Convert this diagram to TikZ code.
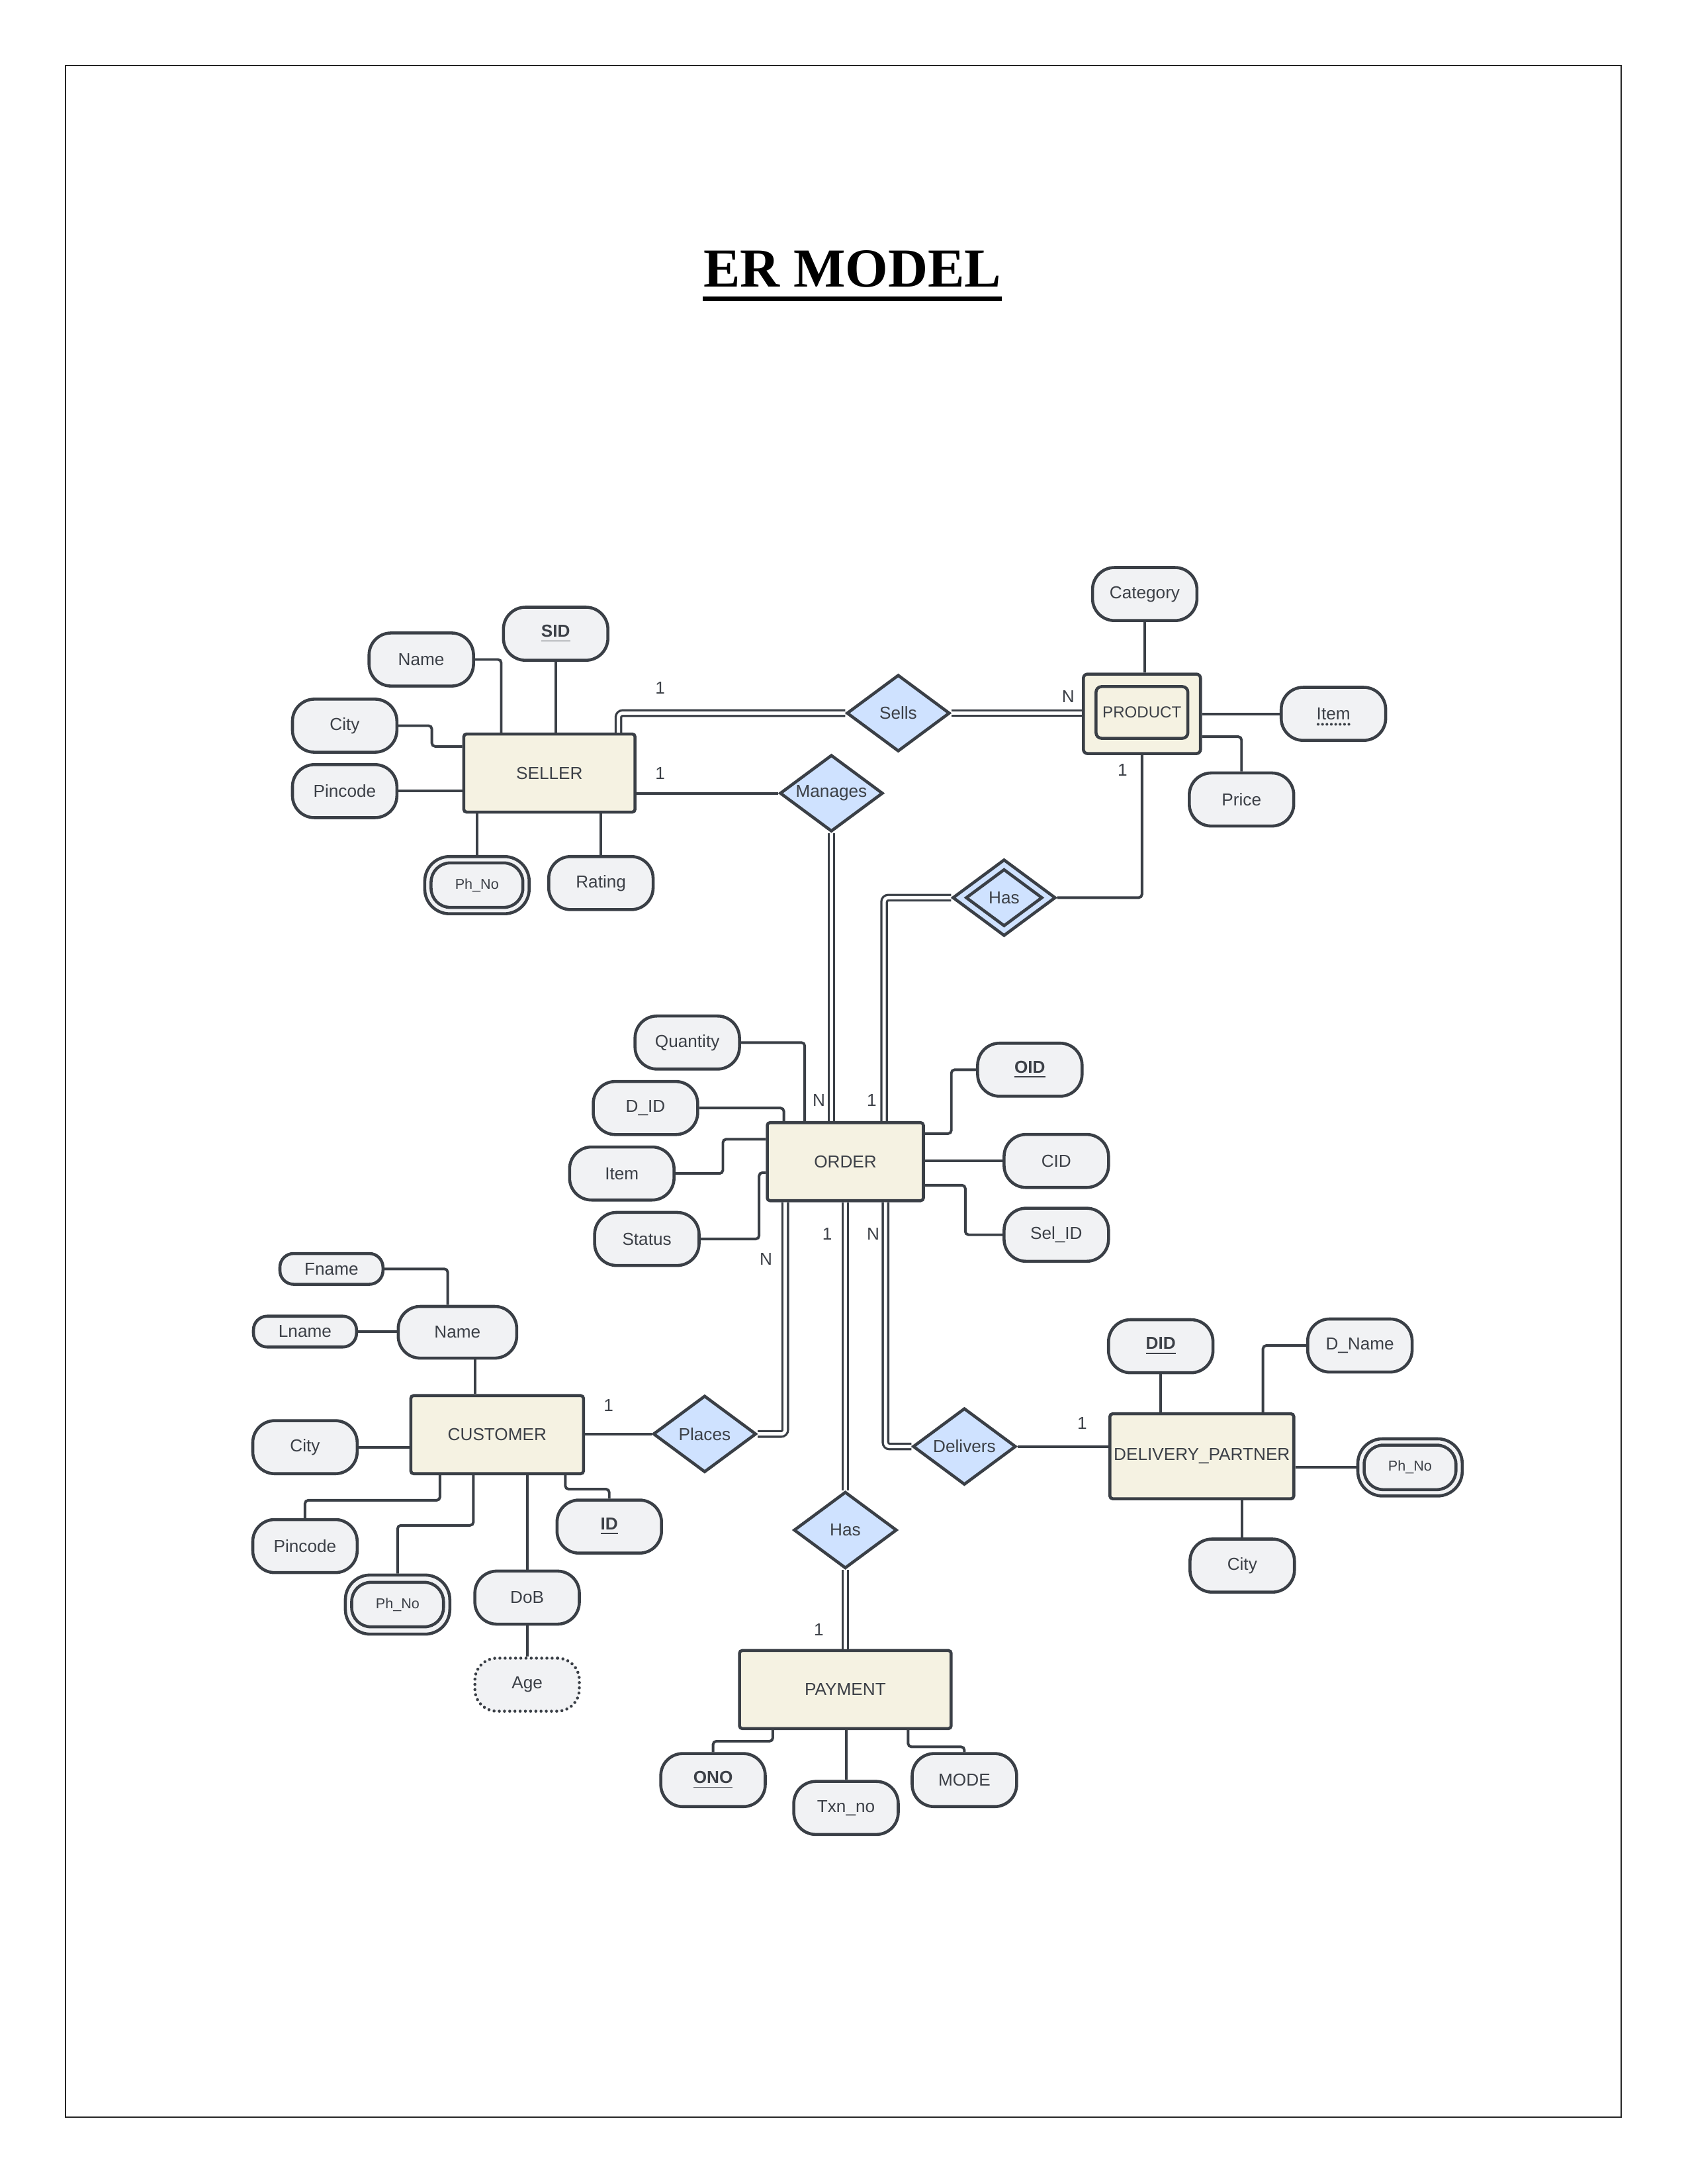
\documentclass[tikz,border=0pt]{standalone}
\usepackage{fontspec}
\setmainfont{Liberation Sans}
\newfontfamily\titlefont{Liberation Serif}
\usetikzlibrary{shapes.geometric,calc}
\definecolor{strk}{HTML}{3A3F46}
\definecolor{entfill}{HTML}{F5F2E2}
\definecolor{attrfill}{HTML}{F1F2F4}
\definecolor{relfill}{HTML}{CFE2FF}
\definecolor{txt}{HTML}{3C4047}
\begin{document}
\begin{tikzpicture}[x=0.017813cm,y=-0.017813cm,
  every node/.style={font=\fontsize{6.3}{7.5}\selectfont, text=txt, inner sep=0pt},
  entity/.style={rectangle, draw=strk, fill=entfill, line width=1.1pt, rounded corners=1pt, minimum height=28.4pt},
  attr/.style={rectangle, draw=strk, fill=attrfill, line width=1.1pt, rounded corners=8pt, minimum width=38pt, minimum height=19.3pt},
  smallattr/.style={attr, rounded corners=5pt, minimum width=37.5pt, minimum height=11.2pt},
  rel/.style={diamond, aspect=1.35, draw=strk, fill=relfill, line width=1.1pt, minimum width=37.5pt, minimum height=27.9pt},
  conn/.style={draw=strk, line width=0.95pt, rounded corners=1.2pt},
  dbl/.style={draw=strk, line width=0.8pt, double=white, double distance=1.2pt, rounded corners=1.5pt},
  card/.style={text=txt},
  keyf/.style={font=\fontsize{6.3}{7.5}\selectfont\bfseries},
  phf/.style={font=\fontsize{5.2}{6}\selectfont}
]
\useasboundingbox (0,0) rectangle (1212,1568);
\draw[line width=0.6pt, black!85] (47,47) rectangle (1164,1520);

% title
\node[font=\titlefont\fontsize{20}{24}\selectfont\bfseries, text=black, anchor=base] (title) at (612,206) {ER MODEL};
\draw[line width=1.7pt, black] ($(title.base west)+(0,8.5)$) -- ($(title.base east)+(0,8.5)$);

% entities
\node[entity, minimum width=62.3pt] (seller) at (394.5,555) {SELLER};
\node[entity, minimum width=42.6pt, minimum height=28.9pt, rounded corners=1.5pt] (product) at (820,512.5) {};
\node[entity, minimum width=33.4pt, minimum height=18.8pt, rounded corners=2pt, font=\fontsize{5.8}{7}\selectfont] (productin) at (820,511.5) {PRODUCT};
\node[entity, minimum width=56.8pt] (order) at (607,834) {ORDER};
\node[entity, minimum width=62.8pt] (customer) at (357,1030) {CUSTOMER};
\node[entity, minimum width=66.9pt, minimum height=30.9pt] (dp) at (863,1045.5) {DELIVERY\_PARTNER};
\node[entity, minimum width=77pt] (payment) at (607,1213) {PAYMENT};

% relationships
\node[rel] (sells) at (645,512) {Sells};
\node[rel] (manages) at (597,569.5) {Manages};
\node[rel] (hasp) at (721,644.5) {};
\node[rel, minimum width=27.9pt, minimum height=20.8pt] (haspin) at (721,644.5) {Has};
\node[rel] (places) at (506,1029.5) {Places};
\node[rel] (deliv) at (692.5,1038.5) {Delivers};
\node[rel] (haspay) at (607,1098.5) {Has};

% seller attributes
\node[attr, keyf] (sid) at (399,455) {\underline{SID}};
\node[attr] (sname) at (302.5,473.5) {Name};
\node[attr] (scity) at (247.5,521) {City};
\node[attr] (spin) at (247.5,568) {Pincode};
\node[attr, minimum height=20.8pt, rounded corners=9pt] (sph) at (342.5,635.5) {};
\node[attr, phf, minimum width=33.4pt, minimum height=16.2pt, rounded corners=7pt] (sphin) at (342.5,635.5) {Ph\_No};
\node[attr] (srat) at (431.5,634) {Rating};

% product attributes
\node[attr] (cat) at (822,426.5) {Category};
\node[attr] (pitem) at (957.5,512.5) {Item};
\node[attr] (price) at (891.5,574) {Price};

% order attributes
\node[attr] (qty) at (493.5,748.5) {Quantity};
\node[attr] (did) at (463.5,795.5) {D\_ID};
\node[attr] (oitem) at (446.5,842.5) {Item};
\node[attr] (status) at (464.5,889.5) {Status};
\node[attr, keyf] (oid) at (739.5,768) {\underline{OID}};
\node[attr] (ocid) at (758.5,833.5) {CID};
\node[attr] (selid) at (758.5,886.5) {Sel\_ID};

% customer attributes
\node[attr, minimum width=43.1pt, minimum height=18.8pt] (cname) at (328.5,956.5) {Name};
\node[smallattr] (fname) at (238,911) {Fname};
\node[smallattr] (lname) at (219,956) {Lname};
\node[attr] (ccity) at (219,1039) {City};
\node[attr] (cpin) at (219,1110) {Pincode};
\node[attr, minimum height=21.5pt, rounded corners=9pt] (cph) at (285.5,1152) {};
\node[attr, phf, minimum width=33.4pt, minimum height=16.2pt, rounded corners=7pt] (cphin) at (285.5,1152) {Ph\_No};
\node[attr] (dob) at (378.5,1147) {DoB};
\node[attr, dash pattern=on 0pt off 1.9pt, line cap=round, line width=1.1pt] (age) at (378.5,1209.5) {Age};
\node[attr, keyf] (ckey) at (437.5,1096) {\underline{ID}};

% delivery partner attributes
\node[attr, keyf] (ddid) at (833.5,966.5) {\underline{DID}};
\node[attr] (dname) at (976.5,966) {D\_Name};
\node[attr, minimum height=20.8pt, rounded corners=9pt] (dph) at (1012.5,1053.5) {};
\node[attr, phf, minimum width=33.4pt, minimum height=16.2pt, rounded corners=7pt] (dphin) at (1012.5,1053.5) {Ph\_No};
\node[attr] (dcity) at (892,1124) {City};

% payment attributes
\node[attr, keyf] (ono) at (512,1278) {\underline{ONO}};
\node[attr] (txn) at (607.5,1298) {Txn\_no};
\node[attr] (mode) at (692.5,1278) {MODE};

% dotted partial-key underline for Item
\draw[strk, line width=1pt, dash pattern=on 0pt off 1.6pt, line cap=round] ($(pitem.center)+(-11,7.5)$) -- ($(pitem.center)+(12,7.5)$);

% ---- connectors: seller
\draw[conn] (sid.south) -- (sid.south |- seller.north);
\draw[conn] (sname.east) -| ($(seller.north west)+(28,0)$);
\draw[conn] (scity.east) -- ++(24,0) |- ($(seller.north west)+(0,10)$);
\draw[conn] (spin.east) -- (spin.east -| seller.west);
\draw[conn] (sph.north) -- (sph.north |- seller.south);
\draw[conn] (srat.north) -- (srat.north |- seller.south);
\draw[dbl] ($(seller.north east)+(-13,0)$) |- (sells.west);
\draw[dbl] (sells.east) -- (sells.east -| product.west);
\draw[conn] (seller.east |- manages.west) -- (manages.west);
\draw[dbl] (manages.south) -- (manages.south |- order.north);

% product
\draw[conn] (product.south) |- (hasp.east);
\draw[dbl] (hasp.west) -| ($(order.north west)+(85,0)$);
\draw[conn] (cat.south) -- (cat.south |- product.north);
\draw[conn] (pitem.west) -- (pitem.west -| product.east);
\draw[conn] ($(product.north east)+(0,46)$) -| (price.north);

% order
\draw[conn] (qty.east) -| ($(order.north west)+(28,0)$);
\draw[conn] (did.east) -| ($(order.north west)+(13,0)$);
\draw[conn] (oitem.east) -- ++(34,0) |- ($(order.north west)+(0,13)$);
\draw[conn] (status.east) -- ++(42,0) |- ($(order.north west)+(0,37)$);
\draw[conn] ($(order.north east)+(0,9)$) -- ++(19,0) |- (oid.west);
\draw[conn] (ocid.west) -- (ocid.west -| order.east);
\draw[conn] ($(order.north east)+(0,46)$) -- ++(29,0) |- (selid.west);
\draw[dbl] ($(order.south west)+(14,0)$) |- (places.east);
\draw[dbl] (haspay.north) -- (haspay.north |- order.south);
\draw[dbl] ($(order.south west)+(86,0)$) |- (deliv.west);

% customer
\draw[conn] (places.west) -- (places.west -| customer.east);
\coordinate (cn1) at ($(customer.north west)+(47,0)$);
\draw[conn] (cn1) -- (cn1 |- cname.south);
\draw[conn] (fname.east) -| ($(cname.north)+(-7,0)$);
\draw[conn] (lname.east) -- (lname.east -| cname.west);
\draw[conn] (ccity.east) -- (ccity.east -| customer.west);
\draw[conn] ($(customer.south west)+(22,0)$) -- ++(0,18) -| (cpin.north);
\draw[conn] ($(customer.south west)+(46,0)$) -- ++(0,36) -| (cph.north);
\draw[conn] (dob.north) -- (dob.north |- customer.south);
\draw[conn] (age.north) -- (dob.south);
\draw[conn] ($(customer.south west)+(112,0)$) -- ++(0,10) -| (ckey.north);

% delivery partner
\draw[conn] (deliv.east) -- (deliv.east -| dp.west);
\draw[conn] (ddid.south) -- (ddid.south |- dp.north);
\draw[conn] (dname.west) -| ($(dp.north west)+(111,0)$);
\draw[conn] (dph.west) -- (dph.west -| dp.east);
\draw[conn] (dcity.north) -- (dcity.north |- dp.south);

% payment
\draw[dbl] (haspay.south) -- (haspay.south |- payment.north);
\draw[conn] ($(payment.south west)+(25,0)$) -- ++(0,8) -| (ono.north);
\draw[conn] (txn.north) -- (txn.north |- payment.south);
\draw[conn] ($(payment.south east)+(-32,0)$) -- ++(0,12) -| (mode.north);

% cardinalities
\node[card] (k1) at (474,494) {1};
\node[card] (k2) at (474,555) {1};
\node[card] (k3) at (767,500) {N};
\node[card] (k4) at (806,553) {1};
\node[card] (k5) at (588,790) {N};
\node[card] (k6) at (626,790) {1};
\node[card] (k7) at (550,904) {N};
\node[card] (k8) at (594,886) {1};
\node[card] (k9) at (627,886) {N};
\node[card] (k10) at (437,1009) {1};
\node[card] (k11) at (777,1022) {1};
\node[card] (k12) at (588,1170) {1};
\end{tikzpicture}
\end{document}
